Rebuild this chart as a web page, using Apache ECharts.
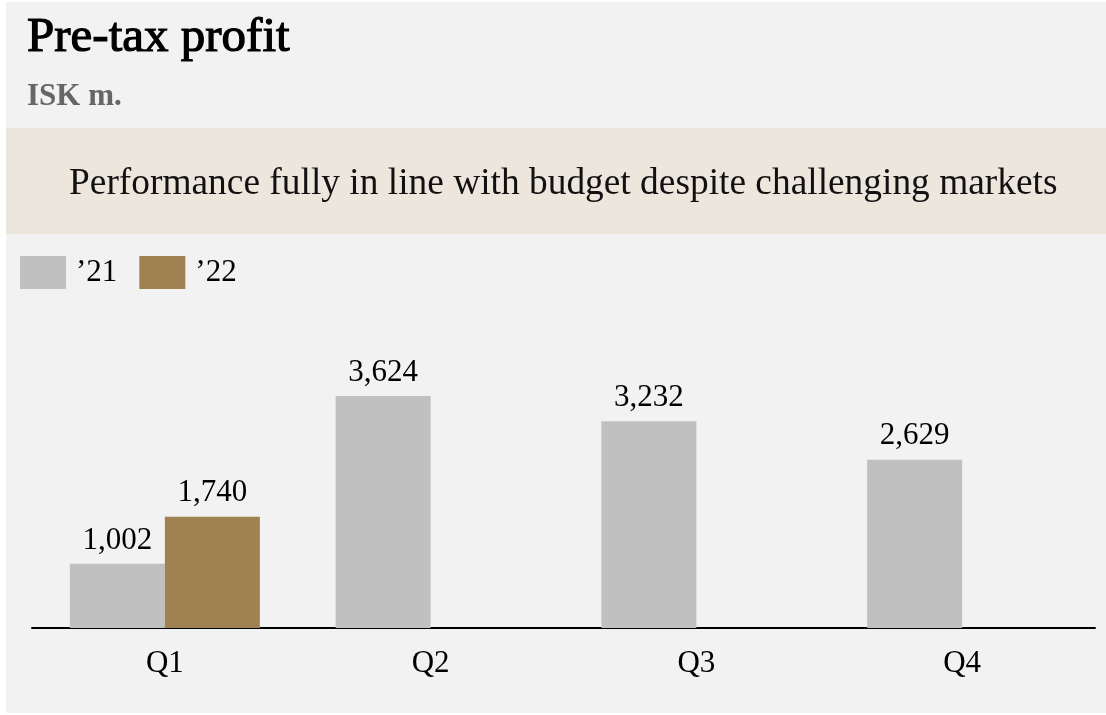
<!DOCTYPE html>
<html>
<head>
<meta charset="utf-8">
<script src="https://cdn.jsdelivr.net/npm/echarts@6/dist/echarts.min.js"></script>
<style>
  html, body { margin: 0; padding: 0; background: #ffffff; }
  #chart { width: 1106px; height: 715px; }
</style>
</head>
<body>
<div id="chart"></div>
<script>
// data
const quarters = ['Q1', 'Q2', 'Q3', 'Q4'];
const profit2021 = [1002, 3624, 3232, 2629];
const profit2022 = [1740, null, null, null];
const seriesNames = ['\u201921', '\u201922'];

const serif = '"Liberation Serif", "Times New Roman", serif';

const myChart = echarts.init(document.getElementById('chart'));

function fmt(p) {
    return p.value == null ? '' : p.value.toLocaleString('en-US');
}

const option = {
    backgroundColor: '#ffffff',
    animation: false,
    graphic: [
        // panel background
        { type: 'rect', z: -10, shape: { x: 6, y: 2, width: 1100, height: 711 }, style: { fill: '#f2f2f2' } },
        // headline band
        { type: 'rect', z: -9, shape: { x: 6, y: 128, width: 1100, height: 106 }, style: { fill: '#ede6dd' } }
    ],
    title: [
        {
            text: 'Pre-tax profit',
            left: 27, top: 14, padding: 0,
            // regular face with a thin outline, closer to the semibold look
            textStyle: { fontFamily: serif, fontSize: 49, fontWeight: 'normal', color: '#000',
                textBorderColor: '#000', textBorderWidth: 1.2 }
        },
        {
            text: 'ISK m.',
            left: 27, top: 81, padding: 0,
            textStyle: { fontFamily: serif, fontSize: 31, fontWeight: 'bold', color: '#666666' }
        },
        {
            text: 'Performance fully in line with budget despite challenging markets',
            left: 69, top: 166, padding: 0,
            textStyle: { fontFamily: serif, fontSize: 37.4, fontWeight: 'normal', color: '#111' }
        }
    ],
    legend: {
        left: 20, top: 256, padding: 0,
        itemWidth: 46, itemHeight: 33, itemGap: 22,
        icon: 'rect',
        textStyle: { fontFamily: serif, fontSize: 31, color: '#000', padding: [0, 0, 0, 5] },
        data: seriesNames
    },
    grid: { left: 32, right: 11, top: 372, bottom: 87, containLabel: false },
    xAxis: {
        type: 'category',
        data: quarters,
        axisLine: { lineStyle: { color: '#000', width: 2 } },
        axisTick: { show: false },
        axisLabel: { fontFamily: serif, fontSize: 31, color: '#000', margin: 20 }
    },
    yAxis: {
        type: 'value', min: 0, max: 4000,
        show: false,
        splitLine: { show: false }
    },
    series: [
        {
            name: seriesNames[0], type: 'bar', data: profit2021,
            barWidth: 95, barGap: '0%',
            itemStyle: { color: '#c0c0c0' },
            label: {
                show: true, position: 'top', distance: 8,
                fontFamily: serif, fontSize: 31, color: '#000',
                formatter: fmt
            }
        },
        {
            name: seriesNames[1], type: 'bar', data: profit2022,
            barWidth: 95, barGap: '0%',
            itemStyle: { color: '#a08151' },
            label: {
                show: true, position: 'top', distance: 8,
                fontFamily: serif, fontSize: 31, color: '#000',
                formatter: fmt
            }
        }
    ]
};

myChart.setOption(option);
window.addEventListener('resize', () => myChart.resize());
</script>
</body>
</html>
